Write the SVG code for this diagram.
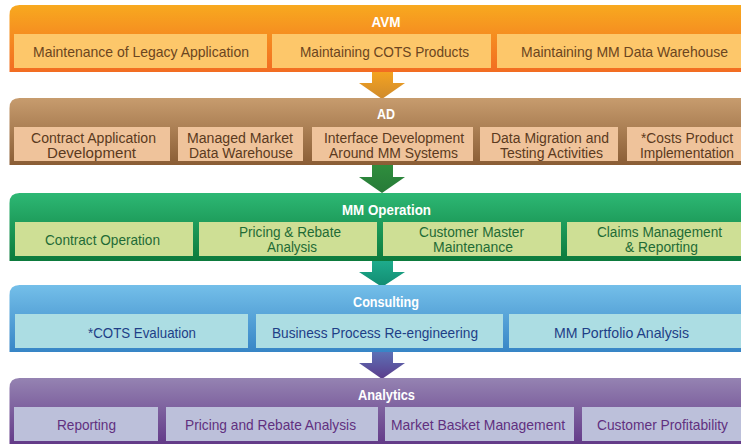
<svg xmlns="http://www.w3.org/2000/svg" width="741" height="444" viewBox="0 0 741 444">
<defs>
<linearGradient id="gAVM" x1="0" y1="0" x2="0" y2="1"><stop offset="0" stop-color="#f8a91f"/><stop offset="1" stop-color="#f26c22"/></linearGradient>
<linearGradient id="gAD" x1="0" y1="0" x2="0" y2="1"><stop offset="0" stop-color="#c79c6e"/><stop offset="1" stop-color="#8a5d35"/></linearGradient>
<linearGradient id="gMM" x1="0" y1="0" x2="0" y2="1"><stop offset="0" stop-color="#2db874"/><stop offset="1" stop-color="#0c7a3c"/></linearGradient>
<linearGradient id="gCO" x1="0" y1="0" x2="0" y2="1"><stop offset="0" stop-color="#74bfe9"/><stop offset="1" stop-color="#3785c6"/></linearGradient>
<linearGradient id="gAN" x1="0" y1="0" x2="0" y2="1"><stop offset="0" stop-color="#9583b2"/><stop offset="1" stop-color="#633a88"/></linearGradient>
<linearGradient id="a1" x1="0" y1="0" x2="0" y2="1"><stop offset="0" stop-color="#f7a520"/><stop offset="1" stop-color="#cf8a2c"/></linearGradient>
<linearGradient id="a2" x1="0" y1="0" x2="0" y2="1"><stop offset="0" stop-color="#2f8f3e"/><stop offset="1" stop-color="#277a38"/></linearGradient>
<linearGradient id="a3" x1="0" y1="0" x2="0" y2="1"><stop offset="0" stop-color="#1fae8e"/><stop offset="1" stop-color="#128b71"/></linearGradient>
<linearGradient id="a4" x1="0" y1="0" x2="0" y2="1"><stop offset="0" stop-color="#5d74b8"/><stop offset="1" stop-color="#5b3c8c"/></linearGradient>
</defs>
<style>
text{font-family:"Liberation Sans",Arial,sans-serif;text-anchor:middle}
.h{font-size:14px;font-weight:bold;fill:#ffffff}
.t{font-size:15px}
.t2{font-size:14px}
.avm rect.b{fill:#fdc76a}
.avm text.t{fill:#6b4520}
.ad rect.b{fill:#efc39b}
.ad text.t2{fill:#5b3a20}
.mm rect.b{fill:#cedf95}
.mm text.t,.mm text.t2{fill:#1f6b35}
.co rect.b{fill:#acdde3}
.co text.t{fill:#1e3f87}
.an rect.b{fill:#bcc0da}
.an text.t{fill:#61307f}
</style>
<g id="connectors">
<polygon points="372,70 393,70 393,83 405,83 382,99 359,83 372,83" fill="url(#a1)"/>
<polygon points="372,163 393,163 393,177 405,177 382,193 359,177 372,177" fill="url(#a2)"/>
<polygon points="372,259 393,259 393,272 405,272 382,287 359,272 372,272" fill="url(#a3)"/>
<polygon points="372,350 393,350 393,363 405,363 382,379 359,363 372,363" fill="url(#a4)"/>
</g>
<g id="avm" class="avm">
<path d="M9.5,72 V15 Q9.5,5 19.5,5 H741 V72 Z" fill="url(#gAVM)"/>
<text class="h" x="386" y="27" textLength="29" lengthAdjust="spacingAndGlyphs">AVM</text>
<rect class="b" x="14" y="34" width="253" height="34"/>
<rect class="b" x="272" y="34" width="219" height="34"/>
<rect class="b" x="497" y="34" width="244" height="34"/>
<text class="t" x="141" y="56.5" textLength="216" lengthAdjust="spacingAndGlyphs">Maintenance of Legacy Application</text>
<text class="t" x="384.5" y="56.5" textLength="169" lengthAdjust="spacingAndGlyphs">Maintaining COTS Products</text>
<text class="t" x="624.5" y="56.5" textLength="207" lengthAdjust="spacingAndGlyphs">Maintaining MM Data Warehouse</text>
</g>
<g id="ad" class="ad">
<path d="M9.5,165 V108 Q9.5,98 19.5,98 H741 V165 Z" fill="url(#gAD)"/>
<text class="h" x="386" y="118.5" textLength="18" lengthAdjust="spacingAndGlyphs">AD</text>
<rect class="b" x="14" y="127" width="156" height="34"/>
<rect class="b" x="178" y="127" width="125" height="34"/>
<rect class="b" x="312" y="127" width="161" height="34"/>
<rect class="b" x="480" y="127" width="138" height="34"/>
<rect class="b" x="627" y="127" width="114" height="34"/>
<text class="t2" x="93.5" y="143" textLength="125" lengthAdjust="spacingAndGlyphs">Contract Application</text>
<text class="t2" x="91.5" y="158" textLength="89" lengthAdjust="spacingAndGlyphs">Development</text>
<text class="t2" x="240" y="143" textLength="106" lengthAdjust="spacingAndGlyphs">Managed Market</text>
<text class="t2" x="241" y="158" textLength="104" lengthAdjust="spacingAndGlyphs">Data Warehouse</text>
<text class="t2" x="394" y="143" textLength="140" lengthAdjust="spacingAndGlyphs">Interface Development</text>
<text class="t2" x="393.5" y="158" textLength="129" lengthAdjust="spacingAndGlyphs">Around MM Systems</text>
<text class="t2" x="550" y="143" textLength="118" lengthAdjust="spacingAndGlyphs">Data Migration and</text>
<text class="t2" x="551.5" y="158" textLength="103" lengthAdjust="spacingAndGlyphs">Testing Activities</text>
<text class="t2" x="687" y="143" textLength="92" lengthAdjust="spacingAndGlyphs">*Costs Product</text>
<text class="t2" x="687" y="158" textLength="94" lengthAdjust="spacingAndGlyphs">Implementation</text>
</g>
<g id="mm" class="mm">
<path d="M9.5,261 V203 Q9.5,193 19.5,193 H741 V261 Z" fill="url(#gMM)"/>
<text class="h" x="386.5" y="215" textLength="89" lengthAdjust="spacingAndGlyphs">MM Operation</text>
<rect class="b" x="15" y="222" width="178" height="34"/>
<rect class="b" x="199" y="222" width="178" height="34"/>
<rect class="b" x="383" y="222" width="178" height="34"/>
<rect class="b" x="567" y="222" width="174" height="34"/>
<text class="t" x="102.5" y="244.5" textLength="115" lengthAdjust="spacingAndGlyphs">Contract Operation</text>
<text class="t2" x="290" y="237" textLength="102" lengthAdjust="spacingAndGlyphs">Pricing &amp; Rebate</text>
<text class="t2" x="292" y="252" textLength="50" lengthAdjust="spacingAndGlyphs">Analysis</text>
<text class="t2" x="471.5" y="237" textLength="105" lengthAdjust="spacingAndGlyphs">Customer Master</text>
<text class="t2" x="473" y="252" textLength="80" lengthAdjust="spacingAndGlyphs">Maintenance</text>
<text class="t2" x="659.5" y="237" textLength="125" lengthAdjust="spacingAndGlyphs">Claims Management</text>
<text class="t2" x="661.5" y="252" textLength="73" lengthAdjust="spacingAndGlyphs">&amp; Reporting</text>
</g>
<g id="consulting" class="co">
<path d="M9.5,352 V295 Q9.5,285 19.5,285 H741 V352 Z" fill="url(#gCO)"/>
<text class="h" x="386" y="307" textLength="66" lengthAdjust="spacingAndGlyphs">Consulting</text>
<rect class="b" x="15" y="314" width="233" height="34"/>
<rect class="b" x="256" y="314" width="247" height="34"/>
<rect class="b" x="509" y="314" width="232" height="34"/>
<text class="t" x="142" y="337.5" textLength="108" lengthAdjust="spacingAndGlyphs">*COTS Evaluation</text>
<text class="t" x="375" y="337.5" textLength="206" lengthAdjust="spacingAndGlyphs">Business Process Re-engineering</text>
<text class="t" x="621.5" y="337.5" textLength="135" lengthAdjust="spacingAndGlyphs">MM Portfolio Analysis</text>
</g>
<g id="analytics" class="an">
<path d="M9.5,444 V388 Q9.5,378 19.5,378 H741 V444 Z" fill="url(#gAN)"/>
<text class="h" x="386.5" y="399.5" textLength="57" lengthAdjust="spacingAndGlyphs">Analytics</text>
<rect class="b" x="14" y="407" width="144" height="34"/>
<rect class="b" x="166" y="407" width="212" height="34"/>
<rect class="b" x="385" y="407" width="189" height="34"/>
<rect class="b" x="582" y="407" width="159" height="34"/>
<text class="t" x="86.5" y="430" textLength="59" lengthAdjust="spacingAndGlyphs">Reporting</text>
<text class="t" x="270.5" y="430" textLength="171" lengthAdjust="spacingAndGlyphs">Pricing and Rebate Analysis</text>
<text class="t" x="478" y="430" textLength="174" lengthAdjust="spacingAndGlyphs">Market Basket Management</text>
<text class="t" x="662.5" y="430" textLength="131" lengthAdjust="spacingAndGlyphs">Customer Profitability</text>
</g>
</svg>
